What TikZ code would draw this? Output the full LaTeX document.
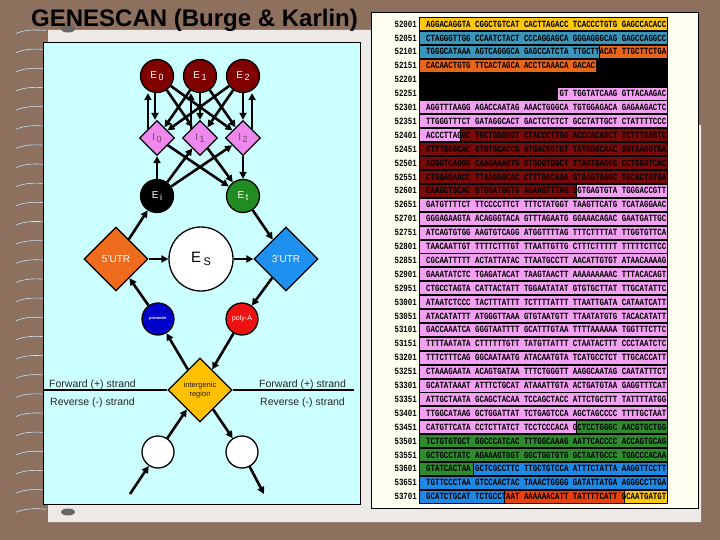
\documentclass[tikz,border=0pt]{standalone}
\usepackage{fontspec}
\setmainfont{Liberation Sans}
\newfontfamily\seqfont{Liberation Mono}
\usetikzlibrary{positioning, shapes.geometric, arrows.meta, calc}
\definecolor{deskbrown}{HTML}{8E705E}
\definecolor{pagegray}{HTML}{ECE9E6}
\definecolor{boxcyan}{HTML}{CCFFFF}
\definecolor{panelcream}{HTML}{FFFFEF}
\definecolor{exonred}{HTML}{800000}
\definecolor{intronpink}{HTML}{EE88EE}
\definecolor{termgreen}{HTML}{228B22}
\definecolor{utrorange}{HTML}{EE6A1C}
\definecolor{utrblue}{HTML}{1E90F0}
\definecolor{promblue}{HTML}{0000CC}
\definecolor{polyred}{HTML}{EE1111}
\definecolor{intergold}{HTML}{FFC000}
\definecolor{seqgold}{HTML}{FFC80A}
\definecolor{seqteal}{HTML}{3A96BA}
\definecolor{seqorange}{HTML}{E8661A}
\definecolor{seqmaroon}{HTML}{780A0A}
\definecolor{seqpink}{HTML}{F3A0F3}
\definecolor{seqgreen}{HTML}{2E8B2E}
\definecolor{seqblue}{HTML}{1E88E5}
\definecolor{seqred}{HTML}{E8420A}
\newcommand{\lo}[2][9]{\raisebox{-0.45ex}{\fontsize{#1}{#1}\selectfont #2}}

\begin{document}
\begin{tikzpicture}[x=1pt, y=-1pt,
      arr/.style={-{Triangle[length=7pt,width=7pt]}, line width=2.6pt},
      exon/.style={circle, draw, line width=1.3pt, minimum size=33pt, inner sep=0pt, fill=exonred, text=white, font=\fontsize{10}{10}\selectfont},
      intron/.style={diamond, draw, line width=1.3pt, minimum size=35pt, inner sep=0pt, fill=intronpink, text=black!65!magenta, font=\fontsize{10}{10}\selectfont},
      utr/.style={diamond, draw, line width=1.3pt, minimum size=64pt, inner sep=0pt, text=white, font=\fontsize{10}{10}\selectfont},
      site/.style={circle, draw, line width=1.3pt, minimum size=32pt, inner sep=0pt, text=white},
      strand/.style={anchor=base west, inner sep=0pt, text=black!85, font=\fontsize{10.5}{10.5}\selectfont},
      bar/.style={draw=black, line width=0.8pt},
      seqtxt/.style={anchor=west, inner sep=0pt, font=\seqfont\bfseries\fontsize{9.5}{9.5}\selectfont},
      coil/.style={line width=1.6pt, draw=black!55, line cap=round}]
    \fill[deskbrown] (0,0) rectangle (720,540);
    \useasboundingbox (0,0) rectangle (720,540);
    % slide page and its binding
    \fill[pagegray] (48,30) -- (698,30) -- (698,125) -- (701,125) -- (701,522) -- (48,522) -- cycle;
    \foreach \k in {0,...,25} {
      \draw[coil] (13,{35+19.15*\k}) .. controls (24,{29+19.15*\k}) and (36,{29+19.15*\k}) .. (47,{31+19.15*\k});
      \draw[line width=0.6pt, white!75!gray] (16,{33.5+19.15*\k}) .. controls (25,{29.5+19.15*\k}) and (36,{29.5+19.15*\k}) .. (46,{30.5+19.15*\k});
    }
    \fill[black!60] (68,29) ellipse (7 and 3.5);
    \fill[black!60] (68,512) ellipse (7 and 3.5);
    \draw[fill=boxcyan, line width=0.8pt] (43,42) rectangle (360,504);
    \node[anchor=base west, inner sep=0pt, font=\bfseries\fontsize{24}{24}\selectfont] (title) at (31,27) {GENESCAN (Burge \& Karlin)};

    % state model
    \node[exon] (E0) at (157,76) {E\,\lo{0}};
    \node[exon] (E1) at (200,76) {E\,\lo{1}};
    \node[exon] (E2) at (243,76) {E\,\lo{2}};
    \node[intron] (I0) at (157,138) {I\,\lo{0}};
    \node[intron] (I1) at (200,138) {I\,\lo{1}};
    \node[intron] (I2) at (243,138) {I\,\lo{2}};
    \node[exon, fill=black] (Ei) at (157,196) {E\,\lo{i}};
    \node[exon, fill=termgreen] (Et) at (243,196) {E\,\lo{t}};
    \node[utr, fill=utrorange] (U5) at (116,259) {5'UTR};
    \node[circle, draw, line width=1.3pt, fill=white, minimum size=64pt, inner sep=0pt, font=\fontsize{15}{15}\selectfont] (Es) at (201,259) {E\,\lo[11]{S}};
    \node[utr, fill=utrblue] (U3) at (286,259) {3'UTR};
    \node[site, fill=promblue, font=\bfseries\fontsize{4}{4}\selectfont] (prom) at (158,319) {promoter};
    \node[site, fill=polyred, font=\fontsize{7}{7}\selectfont] (polyA) at (242,319) {poly-A};
    \node[utr, fill=intergold, text=black!80!brown, align=center, font=\fontsize{7.5}{9.5}\selectfont] (IG) at (200,390) {intergenic\\region};
    \node[site, fill=white] (RL) at (158,452) {};
    \node[site, fill=white] (RR) at (242,452) {};
    \coordinate (inL) at (130,494);
    \coordinate (outR) at (264,494);
    \coordinate (strandL) at (44,390);
    \coordinate (strandR) at (354,390);
    \draw[line width=2.6pt] (strandL) -- (IG.west) (IG.east) -- (strandR);
    \node[strand] (fwdL) at (49,387) {Forward (+) strand};
    \node[strand] (revL) at (50,405) {Reverse (-) strand};
    \node[strand] (fwdR) at (259,387) {Forward (+) strand};
    \node[strand] (revR) at (260,405) {Reverse (-) strand};

    \draw[arr] (I0.north west) -- (I0.north west |- E0.south);
    \draw[arr] ([xshift=-2pt]E0.south) -- ([xshift=-2pt]I0.north);
    \draw[arr] (I1.north west) -- (I1.north west |- E1.south);
    \draw[arr] (E1.south) -- (I1.north);
    \draw[arr] (I2.north east) -- (I2.north east |- E2.south);
    \draw[arr] (E2.south) -- (I2.north);
    \draw[arr] (E0) -- (I1); \draw[arr] (E0) -- (I2);
    \draw[arr] (E1) -- (I0); \draw[arr] (E1) -- (I2);
    \draw[arr] (E2) -- (I0); \draw[arr] (E2) -- (I1);
    \draw[arr] (Ei) -- (I0); \draw[arr] (Ei) -- (I1); \draw[arr] (Ei) -- (I2);
    \draw[arr] (I0) -- (Et); \draw[arr] (I1) -- (Et); \draw[arr] (I2) -- (Et);
    \draw[arr] (U5) -- (Ei); \draw[arr] (U5) -- (Es); \draw[arr] (Es) -- (U3);
    \draw[arr] (Et) -- (U3); \draw[arr] (U3) -- (polyA); \draw[arr] (prom) -- (U5);
    \draw[arr] (IG) -- (prom); \draw[arr] (polyA) -- (IG);
    \draw[arr] (RL) -- (IG); \draw[arr] (IG) -- (RR);
    \draw[arr] (inL) -- (RL); \draw[arr] (RR) -- (outR);

    % annotated sequence
    \draw[fill=panelcream, line width=0.8pt] (371,12) rectangle (698,508);
    \foreach \row/\xa/\xb/\c in {0/419/667/seqgold, 1/419/667/seqteal, 2/419/599/seqteal, 2/599/667/seqorange,
        3/419/596/seqorange, 5/557/667/seqpink, 8/419/460/seqpink, 8/460/667/seqmaroon,
        9/419/667/seqmaroon, 10/419/667/seqmaroon, 11/419/667/seqmaroon, 12/419/576/seqmaroon, 12/576/667/seqpink,
        29/419/576/seqpink, 29/576/667/seqgreen, 30/419/667/seqgreen, 31/419/667/seqgreen,
        32/419/473/seqgreen, 32/473/667/seqblue, 33/419/667/seqblue,
        34/419/504/seqblue, 34/504/624/seqred, 34/624/667/seqgold}
      \draw[bar, fill=\c] (\xa,{24+13.9*\row-6.5}) rectangle (\xb,{24+13.9*\row+6.5});
    \foreach \row in {6,7,13,14,...,28}
      \draw[bar, fill=seqpink] (419,{24+13.9*\row-6.5}) rectangle (667,{24+13.9*\row+6.5});
    \foreach \lbl/\sq [count=\row from 0] in {
        52001/{AGGACAGGTA CGGCTGTCAT CACTTAGACC TCACCCTGTG GAGCCACACC},
        52051/{CTAGGGTTGG CCAATCTACT CCCAGGAGCA GGGAGGGCAG GAGCCAGGCC},
        52101/{TGGGCATAAA AGTCAGGGCA GAGCCATCTA TTGCTTACAT TTGCTTCTGA},
        52151/{CACAACTGTG TTCACTAGCA ACCTCAAACA GACAC},
        52201/{},
        52251/{\phantom{000000000000000000000000000000}GT TGGTATCAAG GTTACAAGAC},
        52301/{AGGTTTAAGG AGACCAATAG AAACTGGGCA TGTGGAGACA GAGAAGACTC},
        52351/{TTGGGTTTCT GATAGGCACT GACTCTCTCT GCCTATTGCT CTATTTTCCC},
        52401/{ACCCTTAGGC TGCTGGGGGT CTACCCTTGG ACCCACAGCT TCTTTGAGTC},
        52451/{GTTTGGGCAC GTGTGCACCG GTGACGGTGT TATGGGCAAC GGTAAGGTGA},
        52501/{AGGGTCAGGG CAAGAAAGTG GTGGGTGGCT TTAGTGAGGG CCTGGGTCAC},
        52551/{CTGGAGAACC TTAAGGGCAC CTTTGGCAGA GTGAGTGAGC TGCACTGTGA},
        52601/{CAAGCTGCAC GTGGATGGTG AGAAGTTTAG GGTGAGTGTA TGGGACCGTT},
        52651/{GATGTTTTCT TTCCCCTTCT TTTCTATGGT TAAGTTCATG TCATAGGAAC},
        52701/{GGGAGAAGTA ACAGGGTACA GTTTAGAATG GGAAACAGAC GAATGATTGC},
        52751/{ATCAGTGTGG AAGTGTCAGG ATGGTTTTAG TTTCTTTTAT TTGGTGTTCA},
        52801/{TAACAATTGT TTTTCTTTGT TTAATTGTTG CTTTCTTTTT TTTTTCTTCC},
        52851/{CGCAATTTTT ACTATTATAC TTAATGCCTT AACATTGTGT ATAACAAAAG},
        52901/{GAAATATCTC TGAGATACAT TAAGTAACTT AAAAAAAAAC TTTACACAGT},
        52951/{CTGCCTAGTA CATTACTATT TGGAATATAT GTGTGCTTAT TTGCATATTC},
        53001/{ATAATCTCCC TACTTTATTT TCTTTTATTT TTAATTGATA CATAATCATT},
        53051/{ATACATATTT ATGGGTTAAA GTGTAATGTT TTAATATGTG TACACATATT},
        53101/{GACCAAATCA GGGTAATTTT GCATTTGTAA TTTTAAAAAA TGGTTTCTTC},
        53151/{TTTTAATATA CTTTTTTGTT TATGTTATTT CTAATACTTT CCCTAATCTC},
        53201/{TTTCTTTCAG GGCAATAATG ATACAATGTA TCATGCCTCT TTGCACCATT},
        53251/{CTAAAGAATA ACAGTGATAA TTTCTGGGTT AAGGCAATAG CAATATTTCT},
        53301/{GCATATAAAT ATTTCTGCAT ATAAATTGTA ACTGATGTAA GAGGTTTCAT},
        53351/{ATTGCTAATA GCAGCTACAA TCCAGCTACC ATTCTGCTTT TATTTTATGG},
        53401/{TTGGCATAAG GCTGGATTAT TCTGAGTCCA AGCTAGCCCC TTTTGCTAAT},
        53451/{CATGTTCATA CCTCTTATCT TCCTCCCACA GCTCCTGGGC AACGTGCTGG},
        53501/{TCTGTGTGCT GGCCCATCAC TTTGGCAAAG AATTCACCCC ACCAGTGCAG},
        53551/{GCTGCCTATC AGAAAGTGGT GGCTGGTGTG GCTAATGCCC TGGCCCACAA},
        53601/{GTATCACTAA GCTCGCCTTC TTGCTGTCCA ATTTCTATTA AAGGTTCCTT},
        53651/{TGTTCCCTAA GTCCAACTAC TAAACTGGGG GATATTATGA AGGGCCTTGA},
        53701/{GCATCTGCAT TCTGCCTAAT AAAAAACATT TATTTTCATT GCAATGATGT}} {
      \node[seqtxt, anchor=east] (lbl\row) at (417,{24+13.9*\row}) {\scalebox{0.78}[1]{\lbl}};
      \node[seqtxt] (seq\row) at (426,{24+13.9*\row}) {\scalebox{0.78}[1]{\sq}};
    }
    \foreach \row/\xa/\xb in {3/596/667, 4/419/667, 5/419/557}
      \draw[bar, fill=black] (\xa,{24+13.9*\row-6.5}) rectangle (\xb,{24+13.9*\row+6.5});
  \end{tikzpicture}
\end{document}
